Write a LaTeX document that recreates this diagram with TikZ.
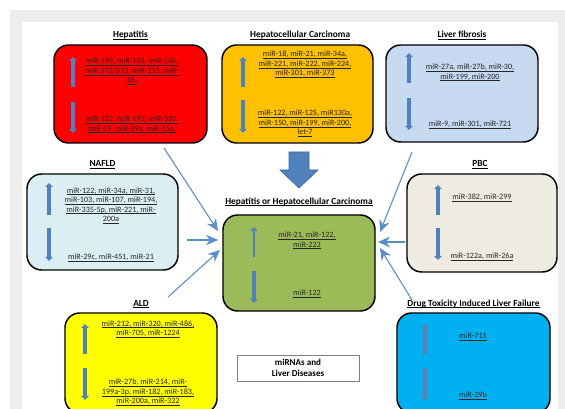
\documentclass[tikz,border=0pt]{standalone}
\usepackage{fontspec}
\setmainfont{Carlito}
\usetikzlibrary{arrows.meta, positioning}

\definecolor{hepred}{HTML}{FF0000}
\definecolor{hccorange}{HTML}{FFC000}
\definecolor{fibblue}{HTML}{C6D9F1}
\definecolor{nafldblue}{HTML}{DBEEF4}
\definecolor{pbcgray}{HTML}{EEECE1}
\definecolor{centergreen}{HTML}{9BBB59}
\definecolor{aldyellow}{HTML}{FFFF00}
\definecolor{drugcyan}{HTML}{00B0F0}
\definecolor{arrowblue}{HTML}{4F81BD}
\definecolor{linkblue}{HTML}{5B8CCB}
\definecolor{framegray}{HTML}{EDEDED}
\definecolor{mirtext}{HTML}{262626}

\newcommand{\ulx}[1]{\setbox0\hbox{#1}\rlap{\rule[-1.3pt]{\wd0}{0.4pt}}\box0}

\begin{document}
\begin{tikzpicture}[
    x=0.75pt, y=-0.75pt,
    disease/.style={rectangle, draw, line width=1.1pt, rounded corners=11pt, inner sep=0pt},
    title/.style={font=\fontsize{7}{8.5}\selectfont\bfseries, inner sep=1pt},
    mirs/.style={font=\fontsize{6.1}{7.1}\selectfont, text=mirtext, align=center, inner sep=0pt},
    updown/.style={arrowblue, line width=2.4pt, -{Triangle[length=3pt, width=5.5pt]}},
    link/.style={linkblue, line width=0.8pt, -{Stealth[length=9pt, width=8pt, inset=3pt]}}
]

% Page and frame
\useasboundingbox (0,0) rectangle (565,409);
\fill[white] (0,0) rectangle (565,409);
\fill[framegray] (10,10) rectangle (565,409);
\fill[white] (22,22) rectangle (558,409);

% Disease boxes
\node [disease, fill=hepred, minimum width=114.75pt, minimum height=73.5pt] (hep) at (130.5,94) {};
\node [disease, fill=hccorange, minimum width=113.25pt, minimum height=73.5pt] (hcc) at (297.5,94) {};
\node [disease, fill=fibblue, minimum width=114pt, minimum height=72.75pt] (fib) at (462,93.5) {};
\node [disease, fill=nafldblue, minimum width=113.25pt, minimum height=72pt] (nafld) at (102.5,222) {};
\node [disease, fill=centergreen, minimum width=114pt, minimum height=72pt] (center) at (299,263) {};
\node [disease, fill=pbcgray, minimum width=112.5pt, minimum height=73.5pt] (pbc) at (482,223) {};
\node [disease, fill=aldyellow, minimum width=114pt, minimum height=75pt] (ald) at (141,363) {};
\node [disease, fill=drugcyan, minimum width=114.75pt, minimum height=75pt] (drug) at (473.5,363) {};

% Titles
\node [title, above=2.5pt of hep] (hepT) {\ulx{Hepatitis}};
\node [title, above=2.5pt of hcc, xshift=2pt] (hccT) {\ulx{Hepatocellular Carcinoma}};
\node [title, above=2.5pt of fib] (fibT) {\ulx{Liver fibrosis}};
\node [title, above=2.5pt of nafld] (nafldT) {\ulx{NAFLD}};
\node [title, above=5pt of center] (centerT) {\ulx{Hepatitis or Hepatocellular Carcinoma}};
\node [title, above=2.5pt of pbc, xshift=-1.5pt] (pbcT) {\ulx{PBC}};
\node [title, above=2pt of ald] (aldT) {\ulx{ALD}};
\node [title, above=2pt of drug] (drugT) {\ulx{Drug Toxicity Induced Liver Failure}};

% miRNA lists (up / down)
\node [mirs] (hepUp) at (132,71.5) {\ulx{miR-199, miR-155, miR-146,}\\ \ulx{miR-372/373, miR-215, miR-}\\ \ulx{16,}};
\node [mirs] (hepDown) at (132,124.5) {\ulx{miR-122, miR-191, miR-320,}\\ \ulx{miR-29, miR-29a, miR-15a,}};
\node [mirs] (hccUp) at (305,64.5) {\ulx{miR-18, miR-21, miR-34a,}\\ \ulx{miR-221, miR-222, miR-224,}\\ \ulx{miR-301, miR-373}};
\node [mirs] (hccDown) at (305,123.5) {\ulx{miR-122, miR-125, miR130a,}\\ \ulx{miR-150, miR-199, miR-200,}\\ \ulx{let-7}};
\node [mirs] (fibUp) at (470,72.5) {\ulx{miR-27a, miR-27b, miR-30,}\\ \ulx{miR-199, miR-200}};
\node [mirs] (fibDown) at (470,125) {\ulx{miR-9, miR-301, miR-721}};
\node [mirs] (nafldUp) at (111,205.5) {\ulx{miR-122, miR-34a, miR-31,}\\ \ulx{miR-103, miR-107, miR-194,}\\ \ulx{miR-335-5p, miR-221, miR-}\\ \ulx{200a}};
\node [mirs] (nafldDown) at (111,258) {\ulx{miR-29c, miR-451, miR-21}};
\node [mirs] (centerUp) at (307,240.5) {\ulx{miR-21, miR-122,}\\ \ulx{miR-223}};
\node [mirs] (centerDown) at (307,294) {\ulx{miR-122}};
\node [mirs] (pbcUp) at (482,198) {\ulx{miR-382, miR-299}};
\node [mirs] (pbcDown) at (482,257) {\ulx{miR-122a, miR-26a}};
\node [mirs] (aldUp) at (148,329) {\ulx{miR-212, miR-320, miR-486,}\\ \ulx{miR-705, miR-1224}};
\node [mirs] (aldDown) at (148,392.5) {\ulx{miR-27b, miR-214, miR-}\\ \ulx{199a-3p, miR-182, miR-183,}\\ \ulx{miR-200a, miR-322}};
\node [mirs] (drugUp) at (473,337) {\ulx{miR-711}};
\node [mirs] (drugDown) at (473,396) {\ulx{miR-29b}};

% Up and down marks
\draw [updown] (73,87) -- (73,57);
\draw [updown] (73,102) -- (73,133);
\draw [updown] (243,87) -- (243,57);
\draw [updown] (243,100) -- (243,133);
\draw [updown] (409,83) -- (409,53);
\draw [updown] (409,98) -- (409,130);
\draw [updown] (49,215) -- (49,183);
\draw [updown] (49,228) -- (49,261);
\draw [updown, line width=1.8pt] (254,257) -- (254,227);
\draw [updown] (254,271) -- (254,303);
\draw [updown] (438,215) -- (438,185);
\draw [updown] (438,228) -- (438,260);
\draw [updown] (85,354) -- (85,324);
\draw [updown] (85,368) -- (85,400);
\draw [updown, arrowblue!75!gray] (425,354) -- (425,324);
\draw [updown, arrowblue!75!gray] (425,368) -- (425,400);

% Block arrow into the combined box
\filldraw [fill=arrowblue, draw=arrowblue!80!black, line width=0.5pt]
    (289,152) -- (309,152) -- (309,170) -- (318,170) -- (299,188) -- (280,170) -- (289,170) -- cycle;

% Legend box
\node [draw=gray, line width=0.5pt, minimum width=91.5pt, minimum height=19.5pt, align=center,
       font=\fontsize{6.8}{8.2}\selectfont\bfseries] (legend) at (298,368) {miRNAs and\\Liver Diseases};

% Connectors
\coordinate (hepOut) at (164,148);
\coordinate (nafldOut) at (187,240);
\coordinate (aldOut) at (168,297);
\coordinate (fibOut) at (412,152);
\coordinate (pbcOut) at (405,242);
\coordinate (drugOut) at (412,300);
\coordinate (inL1) at (218,231);
\coordinate (inL2) at (218,240);
\coordinate (inL3) at (220,250);
\coordinate (inR1) at (380,232);
\coordinate (inR2) at (378,242);
\coordinate (inR3) at (380,248);

\draw [link] (hepOut) -- (inL1);
\draw [link] (nafldOut) -- (inL2);
\draw [link] (aldOut) -- (inL3);
\draw [link] (fibOut) -- (inR1);
\draw [link] (pbcOut) -- (inR2);
\draw [link] (drugOut) -- (inR3);

\end{tikzpicture}
\end{document}
